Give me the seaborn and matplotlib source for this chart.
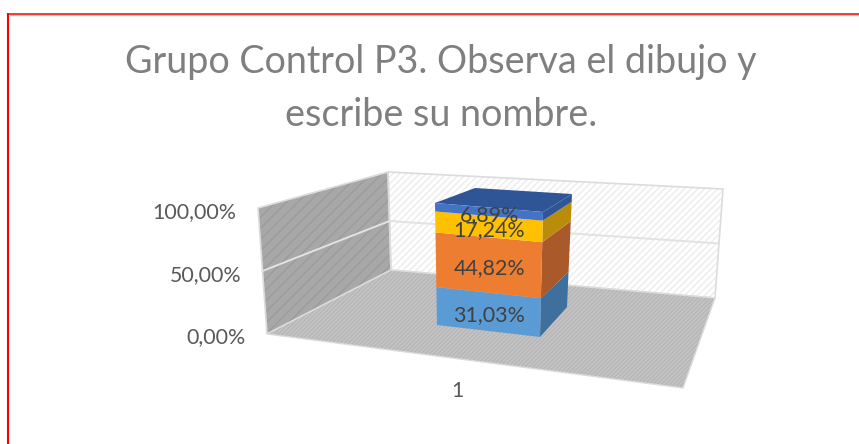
import numpy as np
import matplotlib
matplotlib.use("Agg")
import matplotlib.pyplot as plt
import matplotlib.transforms as mtransforms
from matplotlib.patches import Polygon
import seaborn as sns
import pandas as pd

# ---- data
categories = ["1"]
series_names = ["A", "B", "C", "D"]
series_values = [31.03, 44.82, 17.24, 6.89]
series_labels = ["31,03%", "44,82%", "17,24%", "6,89%"]
front_colors = ["#5b9bd5", "#ed7d31", "#ffc000", "#4472c4"]
side_colors = ["#3f6f9c", "#a9592a", "#b98c0a", "#2f5597"]
top_color = "#2f5597"
y_ticks = [0, 50, 100]
y_tick_labels = ["0,00%", "50,00%", "100,00%"]
title_lines = ["Grupo Control P3. Observa el dibujo y", "escribe su nombre."]

sns.set_theme(style="white")
plt.rcParams["font.family"] = ["Lato", "DejaVu Sans"]
plt.rcParams["hatch.linewidth"] = 1.0

fig = plt.figure(figsize=(8.59, 4.44), dpi=100)
ax = fig.add_axes([0, 0, 1, 1])


def bilinear(corners, u, v):
    """corners: (0,0), (1,0), (0,1), (1,1) in pixels."""
    c = np.asarray(corners, float)
    u = np.asarray(u, float)[..., None]
    v = np.asarray(v, float)[..., None]
    return (1 - u) * (1 - v) * c[0] + u * (1 - v) * c[1] + (1 - u) * v * c[2] + u * v * c[3]


BAR_HALF = 0.4
front_q = [(437, 325), (540, 337), (435, 203), (543, 212)]
back_q = [(475, 300), (567, 307), (475, 188), (572, 194)]


class FrontTransform(mtransforms.Transform):
    input_dims = output_dims = 2
    is_separable = False

    def transform_non_affine(self, xy):
        xy = np.asarray(xy)
        return bilinear(front_q, (xy[:, 0] + BAR_HALF) / (2 * BAR_HALF), xy[:, 1] / 100)


def face(q, u, v):
    return bilinear(q, u, v)


# ---- chart walls
wall_top = 100
left_wall = [(267, 334), (391, 270), (388, 172), (258, 208)]
back_wall = [(391, 270), (715, 298), (723, 189), (388, 172)]
floor = [(267, 334), (683, 388), (715, 298), (391, 270)]

ax.add_patch(Polygon(left_wall, closed=True, facecolor="#a8a8a8", edgecolor="#9c9c9c",
                     hatch="///", lw=0, zorder=1))
ax.add_patch(Polygon(left_wall, closed=True, fill=False, edgecolor="#dcdcdc", lw=1.2, zorder=1.1))
ax.add_patch(Polygon(back_wall, closed=True, facecolor="white", edgecolor="#ececec",
                     hatch="/////", lw=0, zorder=1))
ax.add_patch(Polygon(back_wall, closed=True, fill=False, edgecolor="#dcdcdc", lw=1.2, zorder=1.1))
ax.add_patch(Polygon(floor, closed=True, facecolor="#c4c4c4", edgecolor="#b6b6b6",
                     hatch="////////", lw=0, zorder=1.2))
ax.add_patch(Polygon(floor, closed=True, fill=False, edgecolor="#dcdcdc", lw=1.0, zorder=1.3))

# gridlines at each y tick and tick labels, positioned from the value
left_q = [left_wall[0], left_wall[1], left_wall[3], left_wall[2]]
back_wq = [back_wall[0], back_wall[1], back_wall[3], back_wall[2]]
for val, lab in zip(y_ticks, y_tick_labels):
    v = val / wall_top
    a = face(left_q, 0, v)
    b = face(left_q, 1, v)
    c = face(back_wq, 1, v)
    if 0 < val < wall_top:
        ax.plot([a[0], b[0], c[0]], [a[1], b[1], c[1]], color="#e2e2e2", lw=1.4, zorder=1.15)
    ax.text(a[0] - 21.5, a[1] + 3 + 1.5 * v, lab, ha="right", va="center", fontsize=15.4, color="#595959")

# ---- bars through seaborn
df = pd.DataFrame({"cat": categories * len(series_values), "series": series_names,
                   "value": series_values})
df["bottom"] = df["value"].cumsum() - df["value"]

for i, row in df.iterrows():
    before = len(ax.patches)
    sns.barplot(data=df[df["series"] == row["series"]], x="cat", y="value", bottom=row["bottom"],
                color=front_colors[i], saturation=1, width=2 * BAR_HALF, ax=ax, zorder=3)
    for p in ax.patches[before:]:
        p.set_transform(FrontTransform() + ax.transData)
        p.set_linewidth(0)

    v0 = row["bottom"] / 100
    v1 = (row["bottom"] + row["value"]) / 100
    p0, p1 = face(front_q, 1, v0), face(front_q, 1, v1)
    b0, b1 = face(back_q, 1, v0), face(back_q, 1, v1)
    ax.add_patch(Polygon([p0, b0, b1, p1], closed=True, facecolor=side_colors[i], lw=0, zorder=2.9))

    mid = face(front_q, 0.5, (v0 + v1) / 2)
    ax.text(mid[0] + 0.5, mid[1] + 3.5, series_labels[i], ha="center", va="center",
            fontsize=15.4, color="#404040", zorder=5)

# bar top
ax.add_patch(Polygon([face(front_q, 0, 1), face(front_q, 1, 1), face(back_q, 1, 1), face(back_q, 0, 1)],
                     closed=True, facecolor=top_color, lw=0, zorder=2.95))

ax.set_xlim(0, 859)
ax.set_ylim(444, 0)
ax.set_axis_off()

# category label
ax.text(457, 391, categories[0], ha="center", va="center", fontsize=15.4, color="#595959")

# title
for line, ypos in zip(title_lines, [62, 115]):
    ax.text(441, ypos, line, ha="center", va="center", fontsize=27.2, color="#7f7f7f")

# red frame
ax.plot([8.0, 8.0], [444, 13], color="#ff0000", lw=1.5, solid_capstyle="butt", zorder=6)
ax.plot([7, 859], [13.8, 13.8], color="#e80808", lw=1.1, solid_capstyle="butt", zorder=6)
ax.plot([9, 859], [15.3, 15.3], color="#f9b0b0", lw=0.9, solid_capstyle="butt", zorder=5.9)

fig.savefig("out.png", dpi=100)
